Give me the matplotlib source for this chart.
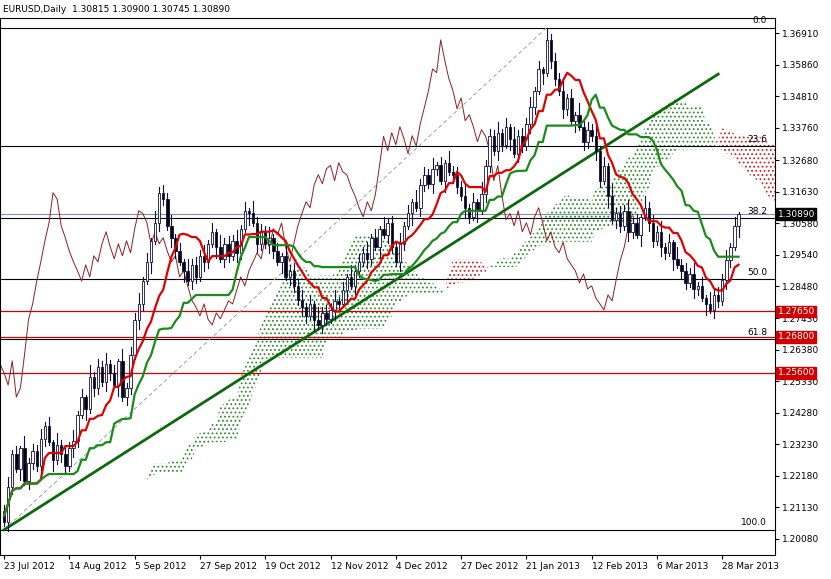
import matplotlib
matplotlib.use("Agg")
import matplotlib.pyplot as plt
import numpy as np
import pandas as pd

plt.rcParams['hatch.linewidth'] = 0.8

closes = [1.2064,1.2180,1.2290,1.2240,1.2310,1.2200,1.2260,1.2300,1.2250,1.2340,1.2385,
1.2330,1.2270,1.2320,1.2290,1.2250,1.2310,1.2335,1.2420,1.2480,1.2440,1.2545,
1.2510,1.2580,1.2530,1.2590,1.2560,1.2520,1.2600,1.2480,1.2510,1.2620,1.2738,
1.2790,1.2866,1.2930,1.3000,1.3059,1.3160,1.3139,1.3050,1.3010,1.2965,1.2930,1.2900,1.2866,
1.2920,1.2880,1.2950,1.2930,1.2990,1.3030,1.2980,1.2940,1.2990,1.2950,
1.3000,1.2960,1.3040,1.3100,1.3091,1.3060,1.2990,1.3030,1.2990,1.3010,1.2965,
1.2930,1.2950,1.2880,1.2900,1.2850,1.2802,1.2780,1.2750,1.2790,1.2738,
1.2720,1.2760,1.2740,1.2770,1.2800,1.2790,1.2835,1.2880,1.2850,1.2900,1.2930,
1.2960,1.2940,1.3010,1.2980,1.3040,1.3020,1.3059,1.2980,1.2930,1.2990,1.3050,1.3091,
1.3130,1.3110,1.3187,1.3220,1.3190,1.3240,1.3251,1.3200,1.3260,1.3230,1.3220,
1.3180,1.3150,1.3110,1.3080,1.3130,1.3100,1.3155,1.3250,1.3348,
1.3300,1.3360,1.3320,1.3380,1.3340,1.3290,1.3350,1.3316,1.3390,1.3444,1.3500,1.3572,
1.3560,1.3669,1.3600,1.3540,1.3500,1.3440,1.3476,1.3400,1.3420,1.3380,1.3330,1.3370,1.3348,
1.3300,1.3200,1.3250,1.3150,1.3070,1.3091,1.3050,1.3100,1.3030,1.3060,1.3020,1.3080,1.3110,
1.3060,1.3000,1.3030,1.2980,1.2960,1.2995,1.2940,1.2920,1.2900,1.2860,1.2890,1.2840,1.2850,
1.2810,1.2790,1.2770,1.2820,1.2800,1.2870,1.2935,1.2980,1.3050,1.3089]
opens = [1.2100] + closes[:-1]
wick_up = [0.0020,0.0035,0.0012,0.0028,0.0008,0.0040,0.0018,0.0025]
wick_dn = [0.0015,0.0030,0.0022,0.0010,0.0038,0.0012,0.0026,0.0020]

xlabels = ["23 Jul 2012","14 Aug 2012","5 Sep 2012","27 Sep 2012","19 Oct 2012","12 Nov 2012",
           "4 Dec 2012","27 Dec 2012","21 Jan 2013","12 Feb 2013","6 Mar 2013","28 Mar 2013"]
xlabel_idx = [0,16,32,48,64,80,96,112,128,144,160,176]
yticks = [1.36910,1.35860,1.34810,1.33760,1.32680,1.31630,1.30580,1.29540,1.28480,
          1.27430,1.26380,1.25330,1.24280,1.23230,1.22180,1.21130,1.20080]
fib_levels = [1.3710,1.3315,1.3075,1.2873,1.2673,1.2038]
fib_names = ["0.0","23.6","38.2","50.0","61.8","100.0"]
red_levels = [1.2765,1.2680,1.2560]

n = len(closes)
hi = pd.Series([max(opens[i],closes[i])+wick_up[i%8] for i in range(n)])
lo = pd.Series([min(opens[i],closes[i])-wick_dn[i%8] for i in range(n)])
tenkan = (hi.rolling(9,min_periods=1).max()+lo.rolling(9,min_periods=1).min())/2
kijun = (hi.rolling(26,min_periods=1).max()+lo.rolling(26,min_periods=1).min())/2
spanA = (tenkan+kijun)/2
spanB = (hi.rolling(52,min_periods=1).max()+lo.rolling(52,min_periods=1).min())/2
idx = np.arange(n)

fig = plt.figure(figsize=(8.31,5.79), dpi=100)
ax = fig.add_axes([0.0, 0.042, 0.933, 0.927])
ax.set_xlim(-1, 189)
ax.set_ylim(1.1955, 1.3742)

xa = idx+26
A = spanA.values; B = spanB.values
ax.fill_between(xa, A, B, where=A>=B, interpolate=True, facecolor='none', edgecolor='#2e8b2e', hatch='....', linewidth=0)
ax.fill_between(xa, A, B, where=A<B, interpolate=True, facecolor='none', edgecolor='#d02020', hatch='....', linewidth=0)

for lv, nm in zip(fib_levels, fib_names):
    ax.axhline(lv, color='black', lw=0.8)
    ax.text(187, lv+0.0008, nm, fontsize=6.5, ha='right', va='bottom')
for lv in red_levels:
    ax.axhline(lv, color='#d00000', lw=0.9)
ax.axhline(closes[-1], color='#8090b0', lw=0.8)
ax.plot([0, 133], [fib_levels[5], fib_levels[0]], color='#a0a0a0', lw=0.7, ls=(0,(4,3)))
ax.plot([0, 175], [1.2038, 1.3555], color='#0a6a0a', lw=2)

ax.plot(idx-26, closes, color='#8b2020', lw=0.7)

for i in range(n):
    ax.plot([i,i],[lo[i],hi[i]], color='#101040', lw=0.8)
    up = closes[i] >= opens[i]
    b0 = min(opens[i],closes[i]); h = max(abs(closes[i]-opens[i]), 0.0003)
    ax.add_patch(plt.Rectangle((i-0.3,b0),0.6,h, facecolor='white' if up else 'black', edgecolor='#101040', lw=0.6, zorder=3))

ax.plot(idx, tenkan, color='#e00000', lw=1.6, zorder=4)
ax.plot(idx, kijun, color='#1a8a1a', lw=1.6, zorder=4)

ax.yaxis.tick_right()
ax.set_yticks(yticks)
ax.set_yticklabels([f"{v:.5f}" for v in yticks], fontsize=6.5)
ax.tick_params(axis='y', length=3, pad=2)
ax.set_xticks(xlabel_idx)
ax.set_xticklabels(xlabels, fontsize=6.5, ha='left')
ax.tick_params(axis='x', length=3, pad=2)
for lv in red_levels:
    ax.text(1.003, lv, f"{lv:.5f}", transform=ax.get_yaxis_transform(), fontsize=6.5, color='white', va='center',
            bbox=dict(boxstyle='square,pad=0.15', fc='#d00000', ec='#d00000'))
ax.text(1.003, closes[-1], f"{closes[-1]:.5f}", transform=ax.get_yaxis_transform(), fontsize=6.5, color='white', va='center',
        bbox=dict(boxstyle='square,pad=0.15', fc='black', ec='black'))
fig.text(0.004, 0.992, "EURUSD,Daily  1.30815 1.30900 1.30745 1.30890", fontsize=6.5, va='top')
for s in ax.spines.values():
    s.set_linewidth(0.8)
fig.savefig("out.png", dpi=100)
